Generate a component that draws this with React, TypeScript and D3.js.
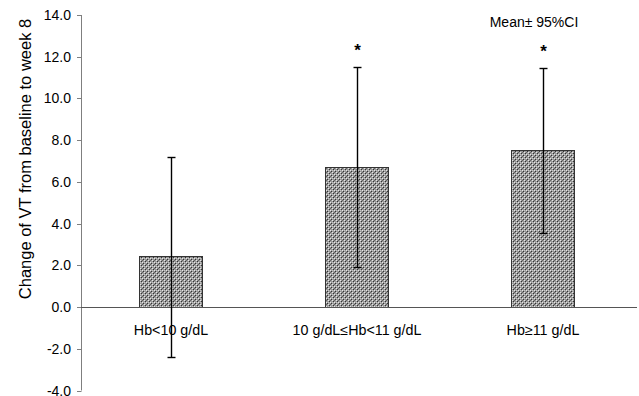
import { useEffect, useRef } from 'react'
import * as d3 from 'd3'

const categories = ['Hb<10 g/dL', '10 g/dL≤Hb<11 g/dL', 'Hb≥11 g/dL']
const means = [2.45, 6.72, 7.55]
const ciLow = [-2.4, 1.9, 3.55]
const ciHigh = [7.2, 11.5, 11.45]
const significant = [false, true, true]
const yTicks = [-4, -2, 0, 2, 4, 6, 8, 10, 12, 14]

export default function App() {
  const svgRef = useRef<SVGSVGElement>(null)
  const width = 639
  const height = 396

  useEffect(() => {
    if (!svgRef.current) return
    const svg = d3.select(svgRef.current)
    svg.selectAll('*').remove()

    const font = 'Liberation Sans, Arial, sans-serif'
    const axisX = 81

    const y = d3.scaleLinear().domain([-4, 14]).range([390.5, 15])
    const x = d3
      .scaleBand<string>()
      .domain(categories)
      .range([78, 636])
      .paddingInner(0.66)
      .paddingOuter(0.33)

    // checkered grey fill
    const pat = svg
      .append('defs')
      .append('pattern')
      .attr('id', 'dots')
      .attr('width', 4)
      .attr('height', 4)
      .attr('patternUnits', 'userSpaceOnUse')
    pat.append('rect').attr('width', 4).attr('height', 4).attr('fill', '#9a9a9a')
    const cells: [number, number, string][] = [
      [0, 0, '#e6e6e6'],
      [2, 2, '#e6e6e6'],
      [1, 1, '#333'],
      [3, 3, '#333'],
      [2, 0, '#666'],
      [0, 2, '#c4c4c4'],
    ]
    cells.forEach(([cx, cy, c]) => {
      pat.append('rect').attr('x', cx).attr('y', cy).attr('width', 1).attr('height', 1).attr('fill', c)
    })

    // y axis
    svg
      .append('line')
      .attr('x1', axisX + 0.5)
      .attr('x2', axisX + 0.5)
      .attr('y1', y(14))
      .attr('y2', y(-4))
      .attr('stroke', '#7f7f7f')
      .attr('stroke-width', 1)

    yTicks.forEach((t) => {
      const ty = Math.round(y(t)) + 0.5
      svg
        .append('line')
        .attr('x1', axisX - 4)
        .attr('x2', axisX + 0.5)
        .attr('y1', ty)
        .attr('y2', ty)
        .attr('stroke', '#7f7f7f')
      svg
        .append('text')
        .attr('x', axisX - 10)
        .attr('y', ty)
        .attr('dy', '0.35em')
        .attr('text-anchor', 'end')
        .attr('font-family', font)
        .attr('font-size', '14px')
        .attr('fill', '#000')
        .text(t.toFixed(1))
    })

    // y label
    svg
      .append('text')
      .attr('transform', `translate(25,${(y(14) + y(0)) / 2 - 2}) rotate(-90)`)
      .attr('text-anchor', 'middle')
      .attr('dy', '0.35em')
      .attr('font-family', font)
      .attr('font-size', '16.5px')
      .attr('fill', '#000')
      .text('Change of VT from baseline to week 8')

    // bars
    categories.forEach((c, i) => {
      const bx = x(c) as number
      const top = y(means[i])
      svg
        .append('rect')
        .attr('x', Math.round(bx) + 0.5)
        .attr('y', Math.round(top) + 0.5)
        .attr('width', Math.round(x.bandwidth()))
        .attr('height', Math.round(y(0)) - Math.round(top))
        .attr('fill', 'url(#dots)')
        .attr('stroke', '#333')
        .attr('stroke-width', 1)
    })

    // zero line
    svg
      .append('line')
      .attr('x1', axisX)
      .attr('x2', 637)
      .attr('y1', Math.round(y(0)) + 0.5)
      .attr('y2', Math.round(y(0)) + 0.5)
      .attr('stroke', '#555')
      .attr('stroke-width', 1)

    // error bars
    categories.forEach((c, i) => {
      const cx = Math.round((x(c) as number) + x.bandwidth() / 2) + 0.5
      const hi = Math.round(y(ciHigh[i])) + 0.5
      const lo = Math.round(y(ciLow[i])) + 0.5
      svg
        .append('line')
        .attr('x1', cx)
        .attr('x2', cx)
        .attr('y1', hi)
        .attr('y2', lo)
        .attr('stroke', '#000')
        .attr('stroke-width', 1.4)
      ;[hi, lo].forEach((yy) => {
        svg
          .append('line')
          .attr('x1', cx - 4)
          .attr('x2', cx + 4)
          .attr('y1', yy)
          .attr('y2', yy)
          .attr('stroke', '#000')
          .attr('stroke-width', 1.4)
      })
      if (significant[i]) {
        svg
          .append('text')
          .attr('x', cx)
          .attr('y', hi - 12)
          .attr('text-anchor', 'middle')
          .attr('font-family', font)
          .attr('font-size', '17px')
          .attr('font-weight', 'bold')
          .attr('fill', '#000')
          .text('*')
      }
    })

    // category labels
    categories.forEach((c) => {
      svg
        .append('text')
        .attr('x', (x(c) as number) + x.bandwidth() / 2)
        .attr('y', 335)
        .attr('text-anchor', 'middle')
        .attr('font-family', font)
        .attr('font-size', '14.3px')
        .attr('fill', '#000')
        .text(c)
    })

    // note
    svg
      .append('text')
      .attr('x', 534)
      .attr('y', 27)
      .attr('text-anchor', 'middle')
      .attr('font-family', font)
      .attr('font-size', '14px')
      .attr('fill', '#000')
      .text('Mean± 95%CI')
  }, [])

  return (
    <svg
      ref={svgRef}
      width={width}
      height={height}
      style={{ position: 'absolute', left: 0, top: 0, background: '#fff' }}
    />
  )
}
